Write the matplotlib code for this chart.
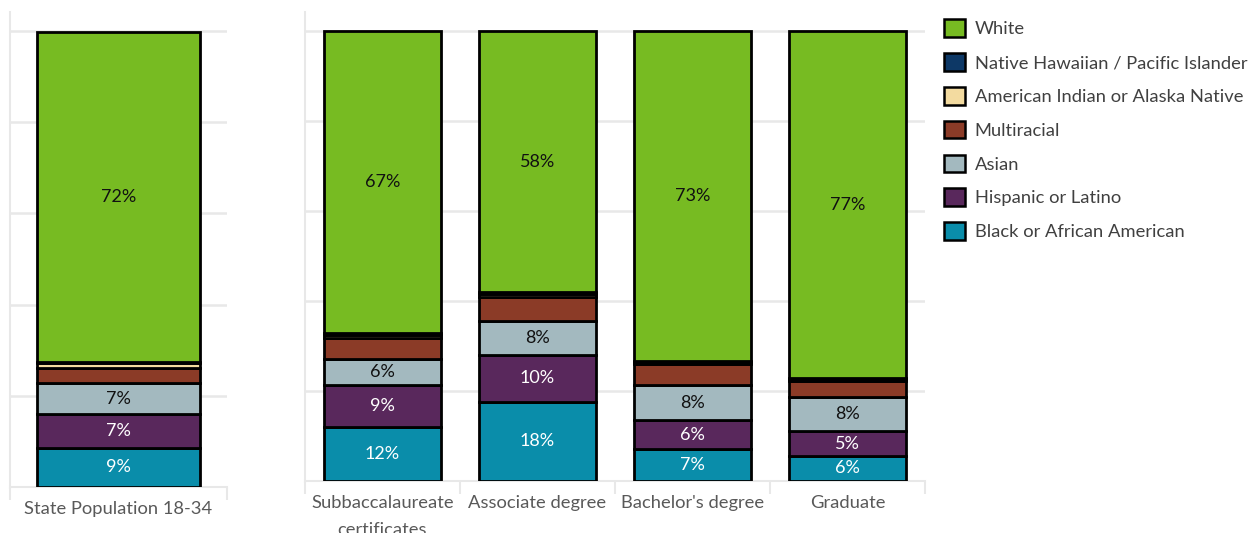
import matplotlib
matplotlib.use("Agg")
import matplotlib.pyplot as plt
from matplotlib.patches import Patch
import numpy as np

plt.rcParams['font.family'] = ['Lato', 'DejaVu Sans']

# ---- data ----
series = ["Black or African American", "Hispanic or Latino", "Asian", "Multiracial",
          "American Indian or Alaska Native", "Native Hawaiian / Pacific Islander", "White"]
colors = ["#0A8DAA", "#59285C", "#A3B9BF", "#8B3B27", "#F3DBA0", "#0D3866", "#77BB22"]
label_colors = ["white", "white", "#111111", None, None, None, "#111111"]

left_cats = ["State Population 18-34"]
left_vals = {
    "Black or African American": [8.6],
    "Hispanic or Latino": [7.4],
    "Asian": [6.8],
    "Multiracial": [3.3],
    "American Indian or Alaska Native": [1.0],
    "Native Hawaiian / Pacific Islander": [0.3],
    "White": [72.4],
}

right_cats = ["Subbaccalaureate\ncertificates", "Associate degree", "Bachelor's degree", "Graduate"]
right_vals = {
    "Black or African American": [12.0, 17.6, 7.1, 5.6],
    "Hispanic or Latino": [9.3, 10.4, 6.4, 5.4],
    "Asian": [5.8, 7.6, 7.8, 7.6],
    "Multiracial": [4.7, 5.3, 4.8, 3.7],
    "American Indian or Alaska Native": [0.7, 0.6, 0.3, 0.3],
    "Native Hawaiian / Pacific Islander": [0.4, 0.4, 0.2, 0.2],
    "White": [67.1, 58.1, 73.4, 77.2],
}

W, H = 1256, 533
fig = plt.figure(figsize=(W / 100, H / 100), dpi=100)

ax_l = fig.add_axes([10 / W, (H - 487) / H, 217 / W, 475 / H])
ax_r = fig.add_axes([305 / W, (H - 481) / H, 620 / W, 469 / H])

grid_c = "#E8E8E8"
text_c = "#595959"


def draw(ax, cats, vals, width):
    x = np.arange(len(cats))
    bottom = np.zeros(len(cats))
    for s, c, lc in zip(series, colors, label_colors):
        v = np.array(vals[s], dtype=float)
        ax.bar(x, v, width, bottom=bottom, color=c, edgecolor="black",
               linewidth=2, zorder=3)
        if lc is not None:
            for xi, vi, bi in zip(x, v, bottom):
                ax.text(xi, bi + vi / 2, f"{int(round(vi))}%", ha="center", va="center",
                        color=lc, fontsize=13, zorder=4)
        bottom += v
    ax.set_xlim(-0.5, len(cats) - 0.5)
    ax.set_ylim(0, 104.2)
    ax.set_yticks([0, 20, 40, 60, 80, 100])
    ax.set_yticklabels([])
    ax.tick_params(axis="y", length=0)
    ax.yaxis.grid(True, color=grid_c, linewidth=1.8, zorder=0)
    ax.set_axisbelow(True)
    ax.set_xticks(x)
    ax.set_xticklabels(cats, fontsize=13.2, color=text_c, va="top", linespacing=1.85)
    ax.tick_params(axis="x", which="major", length=0, pad=10)
    ax.set_xticks(np.arange(len(cats) + 1) - 0.5, minor=True)
    ax.tick_params(axis="x", which="minor", length=9, color=grid_c, width=1.5)
    for sp in ["top", "right"]:
        ax.spines[sp].set_visible(False)
    ax.spines["left"].set_color(grid_c)
    ax.spines["left"].set_linewidth(1.5)
    ax.spines["bottom"].set_color(grid_c)
    ax.spines["bottom"].set_linewidth(1.5)


draw(ax_l, left_cats, left_vals, 0.75)
draw(ax_r, right_cats, right_vals, 0.76)

legend_order = ["White", "Native Hawaiian / Pacific Islander", "American Indian or Alaska Native",
                "Multiracial", "Asian", "Hispanic or Latino", "Black or African American"]
handles = [Patch(facecolor=colors[series.index(s)], edgecolor="black", linewidth=1.8, label=s)
           for s in legend_order]
leg = fig.legend(handles=handles, loc="upper left", bbox_to_anchor=(937 / W, 1 - 12 / H),
                 frameon=False, fontsize=13.2, handlelength=1.1, handleheight=1.1,
                 handletextpad=0.55, labelspacing=0.86, borderaxespad=0)
for t in leg.get_texts():
    t.set_color("#404040")

fig.savefig("out.png", dpi=100)
